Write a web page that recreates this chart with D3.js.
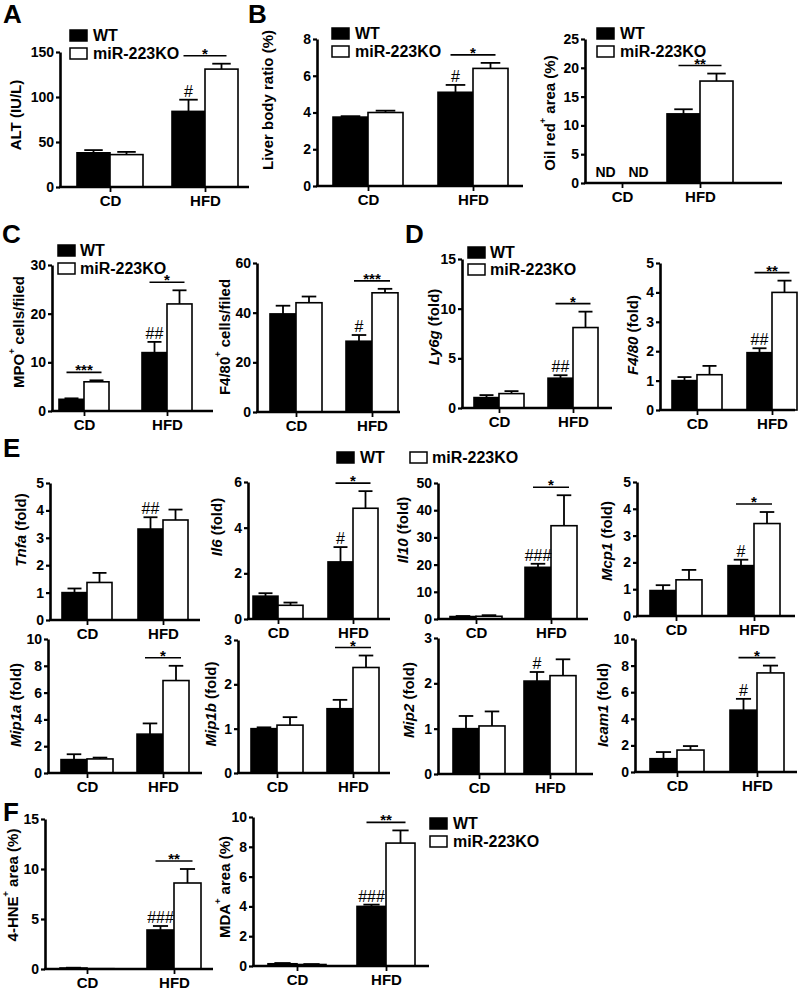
<!DOCTYPE html>
<html><head><meta charset="utf-8">
<script src="https://cdn.jsdelivr.net/npm/d3@7"></script>
<style>
body{margin:0;background:#fff;}
svg{display:block;font-family:"Liberation Sans",Arial,sans-serif;}
</style></head>
<body><svg id="c" width="800" height="990"></svg>
<script>
// ---------- DATA ----------
const groups = ["CD", "HFD"];
const seriesNames = ["WT", "miR-223KO"];

const altWT = [38, 84],   altWTsem = [3, 13],   altKO = [36, 131],  altKOsem = [3, 6];
const altTicks = [0, 50, 100, 150];
const liverWT = [3.75, 5.1], liverWTsem = [0.05, 0.4], liverKO = [4.0, 6.4], liverKOsem = [0.1, 0.3];
const liverTicks = [0, 2, 4, 6, 8];
const oilWT = [0, 12], oilWTsem = [0, 0.8], oilKO = [0, 17.7], oilKOsem = [0, 1.3];
const oilTicks = [0, 5, 10, 15, 20, 25];
const mpoWT = [2.4, 12], mpoWTsem = [0.2, 2.2], mpoKO = [6.0, 22], mpoKOsem = [0.3, 2.8];
const mpoTicks = [0, 10, 20, 30];
const f480cWT = [39.5, 28.5], f480cWTsem = [3.3, 2.5], f480cKO = [44, 48], f480cKOsem = [2.5, 1.6];
const f480cTicks = [0, 20, 40, 60];
const ly6gWT = [1.05, 3.0], ly6gWTsem = [0.25, 0.3], ly6gKO = [1.45, 8.1], ly6gKOsem = [0.25, 1.6];
const ly6gTicks = [0, 5, 10, 15];
const f480fWT = [1.0, 1.95], f480fWTsem = [0.12, 0.15], f480fKO = [1.2, 4.0], f480fKOsem = [0.3, 0.4];
const f480fTicks = [0, 1, 2, 3, 4, 5];
const tnfaWT = [1.0, 3.32], tnfaWTsem = [0.15, 0.43], tnfaKO = [1.37, 3.65], tnfaKOsem = [0.35, 0.38];
const tnfaTicks = [0, 1, 2, 3, 4, 5];
const il6WT = [1.0, 2.5], il6WTsem = [0.13, 0.65], il6KO = [0.6, 4.85], il6KOsem = [0.12, 0.75];
const il6Ticks = [0, 2, 4, 6];
const il10WT = [0.9, 19], il10WTsem = [0.2, 1.3], il10KO = [1.0, 34.3], il10KOsem = [0.4, 11.2];
const il10Ticks = [0, 10, 20, 30, 40, 50];
const mcp1WT = [0.95, 1.88], mcp1WTsem = [0.2, 0.22], mcp1KO = [1.35, 3.45], mcp1KOsem = [0.37, 0.43];
const mcp1Ticks = [0, 1, 2, 3, 4, 5];
const mip1aWT = [1.0, 2.9], mip1aWTsem = [0.4, 0.8], mip1aKO = [1.05, 6.9], mip1aKOsem = [0.1, 1.1];
const mip1aTicks = [0, 2, 4, 6, 8, 10];
const mip1bWT = [1.0, 1.45], mip1bWTsem = [0.03, 0.2], mip1bKO = [1.08, 2.38], mip1bKOsem = [0.18, 0.27];
const mip1bTicks = [0, 1, 2, 3];
const mip2WT = [1.0, 2.05], mip2WTsem = [0.28, 0.2], mip2KO = [1.06, 2.17], mip2KOsem = [0.32, 0.36];
const mip2Ticks = [0, 1, 2, 3];
const icam1WT = [1.0, 4.65], icam1WTsem = [0.5, 0.85], icam1KO = [1.65, 7.45], icam1KOsem = [0.3, 0.55];
const icam1Ticks = [0, 2, 4, 6, 8, 10];
const hneWT = [0.1, 3.9], hneWTsem = [0.03, 0.4], hneKO = [0.03, 8.6], hneKOsem = [0, 1.4];
const hneTicks = [0, 5, 10, 15];
const mdaWT = [0.15, 4.0], mdaWTsem = [0.05, 0.12], mdaKO = [0.1, 8.25], mdaKOsem = [0.03, 0.85];
const mdaTicks = [0, 2, 4, 6, 8, 10];

// ---------- PANELS (data refs + layout) ----------
const panels = [
 {wt:altWT, wts:altWTsem, ko:altKO, kos:altKOsem, ticks:altTicks,
  ax:60, xEnd:249, yTop:52, yBot:187, cd:110, hfd:205, bw:33,
  label:[["ALT (IU/L)",""]], lx:15, ly:115,
  ann:[{k:"hash",t:"#",g:"HFD"},{k:"sig",t:"*",g:"HFD"}]},
 {wt:liverWT, wts:liverWTsem, ko:liverKO, kos:liverKOsem, ticks:liverTicks,
  ax:317, xEnd:523, yTop:39, yBot:186, cd:368, hfd:473, bw:35,
  label:[["Liver body ratio (%)",""]], lx:267, ly:100,
  ann:[{k:"hash",t:"#",g:"HFD"},{k:"sig",t:"*",g:"HFD"}]},
 {wt:oilWT, wts:oilWTsem, ko:oilKO, kos:oilKOsem, ticks:oilTicks,
  ax:585, xEnd:782, yTop:39, yBot:183, cd:622, hfd:700, bw:33,
  label:[["Oil red",""],["+","sup"],[" area (%)",""]], lx:549, ly:113,
  ann:[{k:"sig",t:"**",g:"HFD"},{k:"nd",t:"ND",g:"CD"}]},
 {wt:mpoWT, wts:mpoWTsem, ko:mpoKO, kos:mpoKOsem, ticks:mpoTicks,
  ax:52, xEnd:213, yTop:265, yBot:411, cd:84, hfd:167, bw:25,
  label:[["MPO",""],["+","sup"],[" cells/filed",""]], lx:18, ly:332,
  ann:[{k:"hash",t:"##",g:"HFD"},{k:"sig",t:"***",g:"CD"},{k:"sig",t:"*",g:"HFD"}]},
 {wt:f480cWT, wts:f480cWTsem, ko:f480cKO, kos:f480cKOsem, ticks:f480cTicks,
  ax:257, xEnd:400, yTop:263, yBot:412, cd:296, hfd:372, bw:26,
  label:[["F4/80",""],["+","sup"],[" cells/filed",""]], lx:224, ly:337,
  ann:[{k:"hash",t:"#",g:"HFD"},{k:"sig",t:"***",g:"HFD"}]},
 {wt:ly6gWT, wts:ly6gWTsem, ko:ly6gKO, kos:ly6gKOsem, ticks:ly6gTicks,
  ax:462, xEnd:612, yTop:259, yBot:408, cd:499, hfd:573, bw:25,
  label:[["Ly6g","i"],[" (fold)",""]], lx:433, ly:327,
  ann:[{k:"hash",t:"##",g:"HFD"},{k:"sig",t:"*",g:"HFD"}]},
 {wt:f480fWT, wts:f480fWTsem, ko:f480fKO, kos:f480fKOsem, ticks:f480fTicks,
  ax:660, xEnd:795, yTop:263, yBot:410, cd:697, hfd:772, bw:25,
  label:[["F4/80","i"],[" (fold)",""]], lx:632, ly:335,
  ann:[{k:"hash",t:"##",g:"HFD"},{k:"sig",t:"**",g:"HFD"}]},
 {wt:tnfaWT, wts:tnfaWTsem, ko:tnfaKO, kos:tnfaKOsem, ticks:tnfaTicks,
  ax:50, xEnd:200, yTop:483, yBot:620, cd:87, hfd:163, bw:25,
  label:[["Tnfa","i"],[" (fold)",""]], lx:20, ly:530,
  ann:[{k:"hash",t:"##",g:"HFD"}]},
 {wt:il6WT, wts:il6WTsem, ko:il6KO, kos:il6KOsem, ticks:il6Ticks,
  ax:248, xEnd:390, yTop:482, yBot:619, cd:278, hfd:353, bw:25,
  label:[["Il6","i"],[" (fold)",""]], lx:216, ly:527,
  ann:[{k:"hash",t:"#",g:"HFD"},{k:"sig",t:"*",g:"HFD"}]},
 {wt:il10WT, wts:il10WTsem, ko:il10KO, kos:il10KOsem, ticks:il10Ticks,
  ax:438, xEnd:588, yTop:483, yBot:619, cd:476, hfd:551, bw:26,
  label:[["Il10","i"],[" (fold)",""]], lx:402, ly:530,
  ann:[{k:"hash",t:"###",g:"HFD"},{k:"sig",t:"*",g:"HFD"}]},
 {wt:mcp1WT, wts:mcp1WTsem, ko:mcp1KO, kos:mcp1KOsem, ticks:mcp1Ticks,
  ax:637, xEnd:795, yTop:482, yBot:616, cd:676, hfd:754, bw:26,
  label:[["Mcp1","i"],[" (fold)",""]], lx:606, ly:541,
  ann:[{k:"hash",t:"#",g:"HFD"},{k:"sig",t:"*",g:"HFD"}]},
 {wt:mip1aWT, wts:mip1aWTsem, ko:mip1aKO, kos:mip1aKOsem, ticks:mip1aTicks,
  ax:48, xEnd:202, yTop:639, yBot:773, cd:87, hfd:163, bw:26,
  label:[["Mip1a","i"],[" (fold)",""]], lx:15, ly:705,
  ann:[{k:"sig",t:"*",g:"HFD"}]},
 {wt:mip1bWT, wts:mip1bWTsem, ko:mip1bKO, kos:mip1bKOsem, ticks:mip1bTicks,
  ax:238, xEnd:390, yTop:640, yBot:773, cd:277, hfd:353, bw:26,
  label:[["Mip1b","i"],[" (fold)",""]], lx:210, ly:704,
  ann:[{k:"sig",t:"*",g:"HFD"}]},
 {wt:mip2WT, wts:mip2WTsem, ko:mip2KO, kos:mip2KOsem, ticks:mip2Ticks,
  ax:438, xEnd:593, yTop:638, yBot:774, cd:479, hfd:550, bw:26,
  label:[["Mip2","i"],[" (fold)",""]], lx:408, ly:700,
  ann:[{k:"hash",t:"#",g:"HFD"}]},
 {wt:icam1WT, wts:icam1WTsem, ko:icam1KO, kos:icam1KOsem, ticks:icam1Ticks,
  ax:635, xEnd:797, yTop:639, yBot:772, cd:677, hfd:757, bw:27,
  label:[["Icam1","i"],[" (fold)",""]], lx:602, ly:705,
  ann:[{k:"hash",t:"#",g:"HFD"},{k:"sig",t:"*",g:"HFD"}]},
 {wt:hneWT, wts:hneWTsem, ko:hneKO, kos:hneKOsem, ticks:hneTicks,
  ax:45, xEnd:213, yTop:819, yBot:969, cd:87, hfd:174, bw:27,
  label:[["4-HNE",""],["+","sup"],[" area (%)",""]], lx:12, ly:885,
  ann:[{k:"hash",t:"###",g:"HFD"},{k:"sig",t:"**",g:"HFD"}]},
 {wt:mdaWT, wts:mdaWTsem, ko:mdaKO, kos:mdaKOsem, ticks:mdaTicks,
  ax:253, xEnd:429, yTop:817, yBot:966, cd:297, hfd:386, bw:29,
  label:[["MDA",""],["+","sup"],[" area (%)",""]], lx:224, ly:887,
  ann:[{k:"hash",t:"###",g:"HFD"},{k:"sig",t:"**",g:"HFD"}]}
];

const legends = [
 {x:70, y:30, dy:18, tx:93},
 {x:332, y:28, dy:18, tx:355},
 {x:597, y:28, dy:18, tx:620},
 {x:58, y:245, dy:18, tx:80},
 {x:468, y:247, dy:17, tx:490},
 {x:430, y:818, dy:18, tx:453}
];
const letters = [["A",3,23],["B",248,23],["C",2,243],["D",405,243],["E",3,457],["F",3,821]];

// ---------- DRAW ----------
const svg = d3.select("#c");
const FONT = '"Liberation Sans",Arial,sans-serif';

panels.forEach(p => {
  const g = svg.append("g");
  const yMax = p.ticks[p.ticks.length - 1];
  const y = d3.scaleLinear().domain([0, yMax]).range([p.yBot, p.yTop]);
  const x = d3.scalePoint().domain(groups).range([p.cd, p.hfd]);
  const sub = d3.scaleBand().domain(seriesNames).range([-p.bw, p.bw]);

  const rows = [];
  groups.forEach((gr, i) => {
    rows.push({g:gr, s:"WT", v:p.wt[i], e:p.wts[i]});
    rows.push({g:gr, s:"miR-223KO", v:p.ko[i], e:p.kos[i]});
  });

  // error bars (upper only)
  rows.forEach(r => {
    if (r.e <= 0) return;
    const cx = x(r.g) + sub(r.s) + sub.bandwidth() / 2;
    const cap = sub.bandwidth() * 0.28;
    g.append("line").attr("x1", cx).attr("x2", cx).attr("y1", y(r.v)).attr("y2", y(r.v + r.e))
      .attr("stroke", "#000").attr("stroke-width", 1.8);
    g.append("line").attr("x1", cx - cap).attr("x2", cx + cap).attr("y1", y(r.v + r.e)).attr("y2", y(r.v + r.e))
      .attr("stroke", "#000").attr("stroke-width", 1.8);
  });
  // bars
  g.selectAll("rect.bar").data(rows.filter(r => r.v > 0)).join("rect")
    .attr("x", r => x(r.g) + sub(r.s))
    .attr("width", sub.bandwidth())
    .attr("y", r => y(r.v))
    .attr("height", r => y(0) - y(r.v))
    .attr("fill", r => r.s === "WT" ? "#000" : "#fff")
    .attr("stroke", "#000").attr("stroke-width", 1.6);

  // y axis
  const ya = g.append("g").attr("transform", `translate(${p.ax},0)`)
    .call(d3.axisLeft(y).tickValues(p.ticks).tickFormat(d3.format("d"))
      .tickSize(4).tickSizeOuter(0).tickPadding(2));
  ya.select(".domain").attr("stroke-width", 2.6);
  ya.selectAll(".tick line").attr("stroke-width", 2.2);
  ya.selectAll("text").attr("font-size", 14).attr("font-weight", "bold")
    .attr("font-family", FONT).attr("fill", "#000");

  // x axis baseline + ticks
  g.append("line").attr("x1", p.ax - 1).attr("x2", p.xEnd).attr("y1", p.yBot).attr("y2", p.yBot)
    .attr("stroke", "#000").attr("stroke-width", 2.6);
  const xa = g.append("g").attr("transform", `translate(0,${p.yBot})`)
    .call(d3.axisBottom(x).tickSize(5).tickPadding(3.5));
  xa.select(".domain").remove();
  xa.selectAll(".tick line").attr("stroke-width", 1.8);
  xa.selectAll("text").attr("font-size", 15).attr("font-weight", "bold")
    .attr("font-family", FONT).attr("fill", "#000");

  // y label
  const t = g.append("text").attr("transform", `translate(${p.lx},${p.ly}) rotate(-90)`)
    .attr("text-anchor", "middle").attr("dominant-baseline", "central")
    .attr("font-size", 15).attr("font-weight", "bold");
  let shifted = false;
  p.label.forEach(([txt, st]) => {
    const ts = t.append("tspan").text(txt);
    if (st === "i") ts.attr("font-style", "italic");
    if (st === "sup") { ts.attr("font-size", 9).attr("dy", -6); shifted = true; }
    else if (shifted) { ts.attr("dy", 6); shifted = false; }
  });

  // annotations
  p.ann.forEach(a => {
    const i = groups.indexOf(a.g);
    const wtTop = p.wt[i] + p.wts[i], koTop = p.ko[i] + p.kos[i];
    const cW = x(a.g) + sub("WT") + sub.bandwidth() / 2;
    const cK = x(a.g) + sub("miR-223KO") + sub.bandwidth() / 2;
    if (a.k === "hash") {
      g.append("text").attr("x", cW).attr("y", y(wtTop) - 3).attr("text-anchor", "middle")
        .attr("font-size", 16).attr("font-family", FONT).text(a.t);
    } else if (a.k === "sig") {
      const ly = y(Math.max(wtTop, koTop)) - 8;
      g.append("line").attr("x1", cW - 5).attr("x2", cK + 5).attr("y1", ly).attr("y2", ly)
        .attr("stroke", "#000").attr("stroke-width", 1.6);
      g.append("text").attr("x", (cW + cK) / 2).attr("y", ly + 3).attr("text-anchor", "middle")
        .attr("font-size", 15).attr("font-weight", "bold").text(a.t);
    } else if (a.k === "nd") {
      [cW, cK].forEach(cx => g.append("text").attr("x", cx).attr("y", p.yBot - 6)
        .attr("text-anchor", "middle").attr("font-size", 14).attr("font-weight", "bold").text(a.t));
    }
  });
});

// legends
function legend(xs, ys, names) {
  names.forEach((n, i) => {
    const lx = xs[i], ly = ys[i];
    svg.append("rect").attr("x", lx.x).attr("y", ly).attr("width", 17).attr("height", 11)
      .attr("fill", i === 0 ? "#000" : "#fff").attr("stroke", "#000").attr("stroke-width", 1.5);
    svg.append("text").attr("x", lx.tx).attr("y", ly + 11).attr("font-size", 16)
      .attr("font-weight", "bold").text(n);
  });
}
legends.forEach(L => legend([L, L], [L.y, L.y + L.dy], seriesNames));
// panel E legend (horizontal)
legend([{x:337, tx:360}, {x:410, tx:432}], [452, 452], seriesNames);

letters.forEach(([t, x, y]) => svg.append("text").attr("x", x).attr("y", y)
  .attr("font-size", 26).attr("font-weight", "bold").text(t));
</script></body></html>
